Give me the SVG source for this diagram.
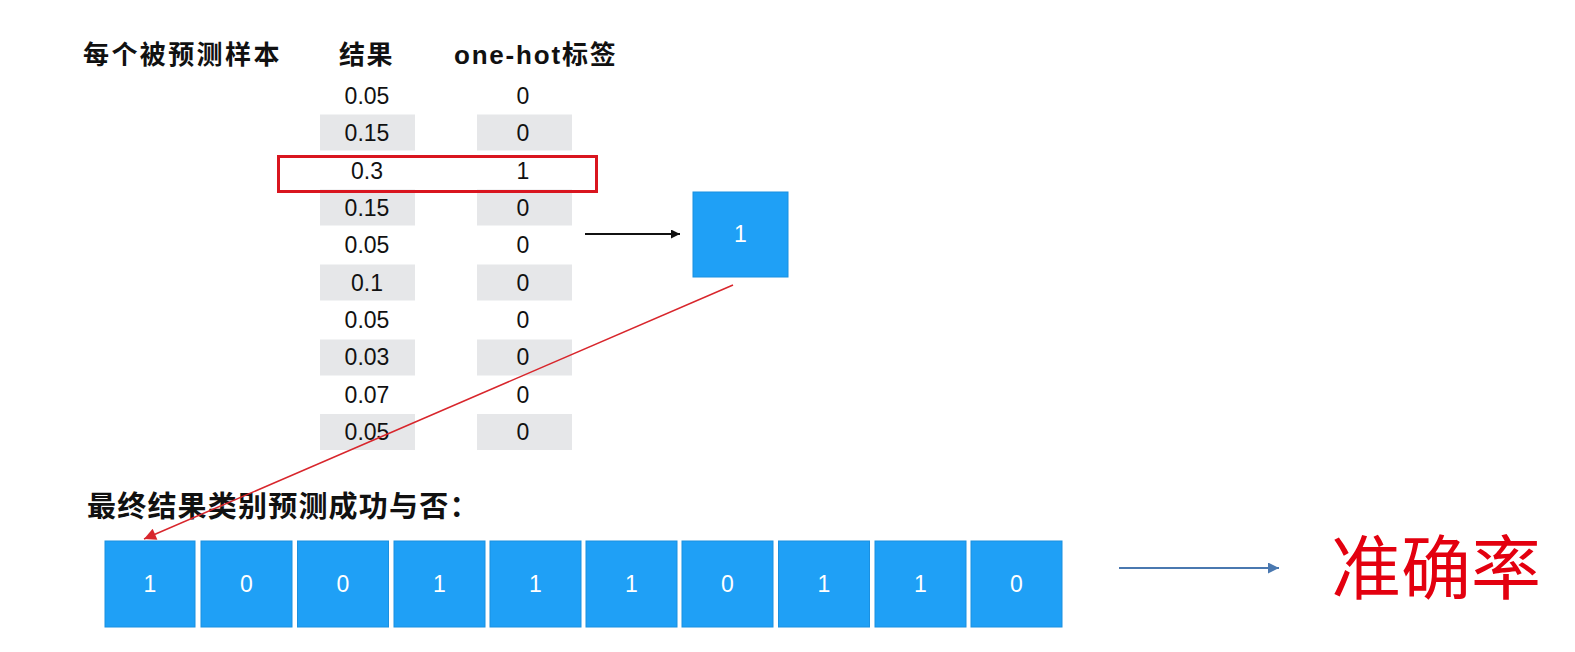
<svg xmlns="http://www.w3.org/2000/svg" width="1575" height="652" viewBox="0 0 1575 652">
<style>
.hdr{font-family:"Liberation Sans","Noto Sans CJK SC",sans-serif;font-size:26px;font-weight:bold;fill:#111;letter-spacing:1.5px}
.val{font-family:"Liberation Sans","Noto Sans CJK SC",sans-serif;font-size:23px;fill:#111;text-anchor:middle}
.cell{fill:#e6e7e9}
.box{fill:#1fa0f6;stroke:#1b90e0;stroke-width:1}
.bt{font-family:"Liberation Sans",sans-serif;font-size:23px;fill:#fff;text-anchor:middle}
</style>
<defs>
<marker id="ah" viewBox="0 0 10 10" refX="10" refY="5" markerWidth="11" markerHeight="9" orient="auto" markerUnits="userSpaceOnUse"><path d="M0,0 L10,5 L0,10 z" fill="#111"/></marker>
<marker id="ahr" viewBox="0 0 10 10" refX="10" refY="5" markerWidth="14" markerHeight="12" orient="auto" markerUnits="userSpaceOnUse"><path d="M0,0 L10,5 L0,10 z" fill="#d8262c"/></marker>
<marker id="ahb" viewBox="0 0 10 10" refX="10" refY="5" markerWidth="13" markerHeight="11" orient="auto" markerUnits="userSpaceOnUse"><path d="M0,0 L10,5 L0,10 z" fill="#4a78b0"/></marker>
</defs>
<rect width="1575" height="652" fill="#fff"/>
<g id="headers">
<text class="hdr" x="83" y="64" style="letter-spacing:2.4px">每个被预测样本</text>
<text class="hdr" x="339" y="64">结果</text>
<text class="hdr" x="454" y="64" style="letter-spacing:1.8px">one-hot标签</text>
</g>
<g id="table">
<rect class="cell" x="320" y="114.5" width="95" height="36"/><rect class="cell" x="477" y="114.5" width="95" height="36"/>
<rect class="cell" x="320" y="189.5" width="95" height="36"/><rect class="cell" x="477" y="189.5" width="95" height="36"/>
<rect class="cell" x="320" y="264.5" width="95" height="36"/><rect class="cell" x="477" y="264.5" width="95" height="36"/>
<rect class="cell" x="320" y="339.5" width="95" height="36"/><rect class="cell" x="477" y="339.5" width="95" height="36"/>
<rect class="cell" x="320" y="414" width="95" height="36"/><rect class="cell" x="477" y="414" width="95" height="36"/>
<text class="val" x="367" y="104">0.05</text><text class="val" x="523" y="104">0</text>
<text class="val" x="367" y="141">0.15</text><text class="val" x="523" y="141">0</text>
<text class="val" x="367" y="179">0.3</text><text class="val" x="523" y="179">1</text>
<text class="val" x="367" y="216">0.15</text><text class="val" x="523" y="216">0</text>
<text class="val" x="367" y="253">0.05</text><text class="val" x="523" y="253">0</text>
<text class="val" x="367" y="291">0.1</text><text class="val" x="523" y="291">0</text>
<text class="val" x="367" y="328">0.05</text><text class="val" x="523" y="328">0</text>
<text class="val" x="367" y="365">0.03</text><text class="val" x="523" y="365">0</text>
<text class="val" x="367" y="403">0.07</text><text class="val" x="523" y="403">0</text>
<text class="val" x="367" y="440">0.05</text><text class="val" x="523" y="440">0</text>
<rect x="278.5" y="156.5" width="318" height="35" fill="none" stroke="#d9151f" stroke-width="3"/>
</g>
<g id="result-box">
<rect class="box" x="693" y="192" width="95" height="85"/>
<text class="bt" x="740.5" y="242">1</text>
</g>
<g id="caption">
<text class="hdr" x="87" y="517" style="font-size:29px;letter-spacing:1.2px">最终结果类别预测成功与否：</text>
</g>
<g id="result-row">
<rect class="box" x="105" y="541" width="90" height="86"/><text class="bt" x="150" y="592">1</text>
<rect class="box" x="201" y="541" width="91" height="86"/><text class="bt" x="246.5" y="592">0</text>
<rect class="box" x="297.5" y="541" width="91" height="86"/><text class="bt" x="343" y="592">0</text>
<rect class="box" x="394" y="541" width="91" height="86"/><text class="bt" x="439.5" y="592">1</text>
<rect class="box" x="490" y="541" width="91" height="86"/><text class="bt" x="535.5" y="592">1</text>
<rect class="box" x="586" y="541" width="91" height="86"/><text class="bt" x="631.5" y="592">1</text>
<rect class="box" x="682" y="541" width="91" height="86"/><text class="bt" x="727.5" y="592">0</text>
<rect class="box" x="778.5" y="541" width="91" height="86"/><text class="bt" x="824" y="592">1</text>
<rect class="box" x="875" y="541" width="91" height="86"/><text class="bt" x="920.5" y="592">1</text>
<rect class="box" x="971" y="541" width="91" height="86"/><text class="bt" x="1016.5" y="592">0</text>
</g>
<g id="accuracy">
<text x="1331" y="594" style="font-family:'Liberation Serif','Noto Sans CJK SC',serif;font-size:70px;fill:#e3000f">准确率</text>
</g>
<g id="connectors">
<line x1="585" y1="234" x2="680" y2="234" stroke="#111" stroke-width="2" marker-end="url(#ah)"/>
<line x1="733" y1="285" x2="144" y2="539" stroke="#d8262c" stroke-width="1.5" marker-end="url(#ahr)"/>
<line x1="1119" y1="568" x2="1279" y2="568" stroke="#4a78b0" stroke-width="2" marker-end="url(#ahb)"/>
</g>
</svg>
